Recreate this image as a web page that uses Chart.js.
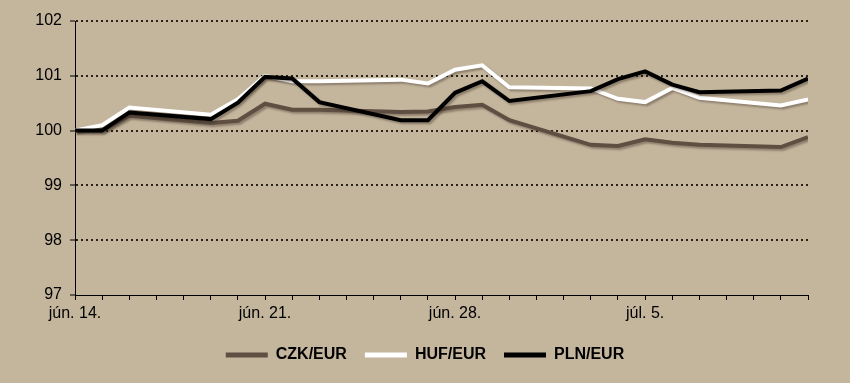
<!DOCTYPE html>
<html>
<head>
<meta charset="utf-8">
<script src="https://cdn.jsdelivr.net/npm/chart.js@4.4.1/dist/chart.umd.min.js"></script>
<style>
  html, body { margin: 0; padding: 0; background: #c4b59d; }
  #wrap { width: 850px; height: 383px; position: relative; }
</style>
</head>
<body>
<div id="wrap"><canvas id="fxChart"></canvas></div>
<script>
// napok jún. 14-től számolva (csak munkanapok)
const days = [0, 1, 2, 5, 6, 7, 8, 9, 12, 13, 14, 15, 16, 19, 20, 21, 22, 23, 26, 27];
const czk = [100.0, 100.0, 100.27, 100.14, 100.18, 100.49, 100.38, 100.38, 100.34, 100.35,
             100.43, 100.47, 100.19, 99.74, 99.72, 99.84, 99.78, 99.74, 99.70, 99.88];
const huf = [100.0, 100.1, 100.42, 100.29, 100.57, 101.0, 100.90, 100.90, 100.93, 100.86,
             101.11, 101.19, 100.79, 100.77, 100.58, 100.52, 100.78, 100.60, 100.46, 100.57];
const pln = [100.0, 100.0, 100.33, 100.21, 100.51, 100.98, 100.95, 100.52, 100.19, 100.19,
             100.69, 100.90, 100.54, 100.72, 100.94, 101.08, 100.84, 100.70, 100.73, 100.95];
const seriesNames = ['CZK/EUR', 'HUF/EUR', 'PLN/EUR'];
const tickDays = [0, 7, 14, 21];
const tickLabels = ['jún. 14.', 'jún. 21.', 'jún. 28.', 'júl. 5.'];

const toPoints = vals => vals.map((v, i) => ({ x: days[i], y: v }));
const FONT = 'Arial, "Liberation Sans", sans-serif';

// Excel-szerű árnyék a vonalak alatt
const lineShadow = {
  id: 'lineShadow',
  beforeDatasetsDraw(chart) {
    const ctx = chart.ctx;
    ctx.save();
    ctx.shadowColor = 'rgba(40,30,20,0.35)';
    ctx.shadowOffsetX = 2;
    ctx.shadowOffsetY = 2;
    ctx.shadowBlur = 2;
  },
  afterDatasetsDraw(chart) {
    chart.ctx.restore();
  }
};

// legenda: rögzített magasság, és a teljes szélességhez középre igazítva
const legendPlace = {
  id: 'legendPlace',
  beforeInit(chart) {
    const origFit = chart.legend.fit;
    chart.legend.fit = function () {
      origFit.bind(chart.legend)();
      this.height = 54;
    };
  },
  afterLayout(chart) {
    chart.legend.left += 21;
    chart.legend.right += 21;
  }
};

new Chart(document.getElementById('fxChart'), {
  type: 'line',
  data: {
    datasets: [
      { label: seriesNames[0], data: toPoints(czk), borderColor: '#5e4f42', backgroundColor: '#5e4f42', order: 3 },
      { label: seriesNames[1], data: toPoints(huf), borderColor: '#ffffff', backgroundColor: '#ffffff', order: 2 },
      { label: seriesNames[2], data: toPoints(pln), borderColor: '#000000', backgroundColor: '#000000', order: 1 }
    ]
  },
  options: {
    responsive: true,
    maintainAspectRatio: false,
    animation: false,
    layout: { padding: { top: 21, right: 42, left: 0, bottom: 0 } },
    elements: {
      line: { borderWidth: 4, tension: 0, borderJoinStyle: 'miter' },
      point: { radius: 0 }
    },
    scales: {
      x: {
        type: 'linear',
        min: 0,
        max: 27,
        afterFit: s => { s.height = 34; },
        grid: { drawOnChartArea: false, drawTicks: true, tickLength: 5, tickColor: '#000', tickWidth: 1 },
        border: { display: true, color: '#000', width: 1 },
        afterBuildTicks: s => { s.ticks = Array.from({ length: 28 }, (_, i) => ({ value: i })); },
        ticks: {
          autoSkip: false,
          maxRotation: 0,
          padding: 4,
          color: '#000',
          font: { family: FONT, size: 16 },
          callback: v => {
            const k = tickDays.indexOf(v);
            return k >= 0 ? tickLabels[k] : '';
          }
        }
      },
      y: {
        min: 97,
        max: 102,
        afterFit: s => { s.width = 75; },
        grid: {
          color: c => (c.tick && c.tick.value === 97 ? 'rgba(0,0,0,0)' : '#2a2118'),
          lineWidth: 2,
          drawTicks: true,
          tickLength: 5,
          tickColor: '#000',
          tickWidth: 1,
          tickBorderDash: []
        },
        border: { display: true, color: '#000', width: 1, dash: [2, 3] },
        ticks: {
          stepSize: 1,
          padding: 8,
          color: '#000',
          font: { family: FONT, size: 16 }
        }
      }
    },
    plugins: {
      tooltip: { enabled: false },
      legend: {
        position: 'bottom',
        labels: {
          boxWidth: 42,
          boxHeight: 5,
          padding: 18,
          color: '#000',
          font: { family: FONT, size: 16, weight: 'bold' },
          sort: (a, b) => a.datasetIndex - b.datasetIndex,
          generateLabels: chart =>
            Chart.defaults.plugins.legend.labels.generateLabels(chart).map(l => ({ ...l, lineWidth: 0 }))
        }
      }
    }
  },
  plugins: [lineShadow, legendPlace]
});
</script>
</body>
</html>
